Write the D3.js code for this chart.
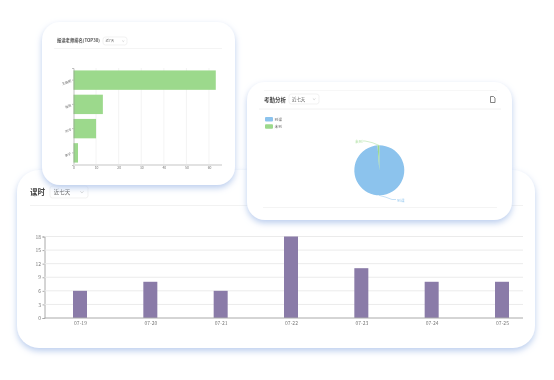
<!DOCTYPE html>
<html>
<head>
<meta charset="utf-8">
<script src="https://cdn.jsdelivr.net/npm/d3@7"></script>
<style>
  html, body { margin: 0; padding: 0; background: #fff; }
  svg { display: block; filter: blur(0.35px); }
  text { font-family: "Noto Sans CJK SC", "DejaVu Sans", sans-serif; }
</style>
</head>
<body>
<svg id="chart" width="554" height="380"></svg>
<script>
// bottom chart: class hours per day
const dates = ['07-19', '07-20', '07-21', '07-22', '07-23', '07-24', '07-25'];
const hours = [6, 8, 6, 18, 11, 8, 8];
const hourTicks = [0, 3, 6, 9, 12, 15, 18];

// top left chart: teacher ranking
const teachers = ['王晓明', '张丽', '刘洋', '李子'];
const teacherValues = [63, 13, 10, 2];
const teacherTicks = [0, 10, 20, 30, 40, 50, 60];

// right chart: attendance
const attendNames = ['到课', '未到'];
const attendValues = [88, 1];
const attendColors = ['#8cc3ed', '#9cd98c'];
const attendLabelColors = ['#9fcdf0', '#b4e2a8'];

const svg = d3.select('#chart');

const defs = svg.append('defs');
const shadow = defs.append('filter').attr('id', 'shadow')
  .attr('x', '-10%').attr('y', '-10%').attr('width', '120%').attr('height', '125%');
shadow.append('feDropShadow')
  .attr('dx', 0).attr('dy', 3).attr('stdDeviation', 3)
  .attr('flood-color', '#b4c9ec').attr('flood-opacity', 0.9);

function card(x, y, w, h, r) {
  svg.append('rect')
    .attr('x', x).attr('y', y).attr('width', w).attr('height', h)
    .attr('rx', r).attr('fill', '#fff').attr('filter', 'url(#shadow)');
}

function hline(x1, x2, y, color, width) {
  svg.append('line')
    .attr('x1', x1).attr('x2', x2).attr('y1', y).attr('y2', y)
    .attr('stroke', color).attr('stroke-width', width || 1);
}

// little dropdown with a chevron
function select(x, y, w, h, label, size) {
  svg.append('rect')
    .attr('x', x).attr('y', y).attr('width', w).attr('height', h)
    .attr('rx', 2.5).attr('fill', '#fff').attr('stroke', '#ececec').attr('stroke-width', 0.7);
  svg.append('text')
    .attr('x', x + size * 0.7).attr('y', y + h / 2 + size * 0.36)
    .attr('font-size', size).attr('fill', '#666').text(label);
  const cx = x + w - size * 1.1, cy = y + h / 2;
  svg.append('path')
    .attr('d', `M${cx - size * 0.3},${cy - size * 0.12}L${cx},${cy + size * 0.16}L${cx + size * 0.3},${cy - size * 0.12}`)
    .attr('fill', 'none').attr('stroke', '#bbb').attr('stroke-width', 0.6);
}

function drawBottom() {
  card(17, 170, 518, 178, 22);

  svg.append('text').attr('x', 30).attr('y', 195)
    .attr('font-size', 7.5).attr('font-weight', 700).attr('fill', '#444').text('课时');
  select(50, 186, 38, 12, '近七天', 5.5);
  hline(30, 523, 205.5, '#f2f2f2');

  const x = d3.scalePoint().domain(dates).range([80, 502]);
  const y = d3.scaleLinear().domain([0, 18]).range([318, 236.5]);

  const yAxis = svg.append('g').attr('transform', 'translate(44.5,0)')
    .call(d3.axisLeft(y).tickValues(hourTicks).tickSize(2).tickPadding(1.5));
  yAxis.select('.domain').attr('stroke', '#aaa');
  yAxis.selectAll('line').attr('stroke', '#aaa');
  yAxis.selectAll('text').attr('font-size', 5).attr('fill', '#777');

  svg.selectAll('.hgrid').data(hourTicks.filter(d => d > 0)).join('line')
    .attr('class', 'hgrid')
    .attr('x1', 44.5).attr('x2', 523)
    .attr('y1', d => y(d)).attr('y2', d => y(d))
    .attr('stroke', '#ebebeb');

  svg.selectAll('.hbar').data(hours).join('rect')
    .attr('class', 'hbar')
    .attr('x', (d, i) => x(dates[i]) - 7)
    .attr('y', d => y(d))
    .attr('width', 14)
    .attr('height', d => y(0) - y(d))
    .attr('fill', '#8a7ba8');

  const xAxis = svg.append('g').attr('transform', 'translate(0,318)')
    .call(d3.axisBottom(x).tickSize(0).tickPadding(3));
  xAxis.select('.domain').remove();
  xAxis.selectAll('text').attr('font-size', 5).attr('fill', '#777');
  hline(44.5, 523, 318, '#aaa');
}

function drawRanking() {
  card(42, 22, 193, 163, 18);

  svg.append('text').attr('x', 57).attr('y', 42)
    .attr('font-size', 4.3).attr('font-weight', 700).attr('fill', '#555').text('报读老师排名(TOP30)');
  select(103, 37, 24, 8, '近7天', 3.4);
  hline(54, 222, 48.5, '#f4f4f4');

  const x = d3.scaleLinear().domain([0, 60]).range([73.5, 209]);
  const y = d3.scaleBand().domain(teachers).range([68, 165]).paddingInner(0.2).paddingOuter(0.1);

  svg.selectAll('.tgrid').data(teacherTicks.filter(d => d > 0)).join('line')
    .attr('class', 'tgrid')
    .attr('x1', d => x(d)).attr('x2', d => x(d))
    .attr('y1', 68).attr('y2', 165)
    .attr('stroke', '#efefef').attr('stroke-width', 0.7);

  svg.selectAll('.tbar').data(teacherValues).join('rect')
    .attr('class', 'tbar')
    .attr('x', x(0))
    .attr('y', (d, i) => y(teachers[i]))
    .attr('width', d => x(d) - x(0))
    .attr('height', y.bandwidth())
    .attr('fill', '#9cd98c');

  const yAxis = svg.append('g').attr('transform', 'translate(73.5,0)')
    .call(d3.axisLeft(y).tickSize(1.5).tickPadding(1));
  yAxis.select('.domain').attr('stroke', '#999').attr('stroke-width', 0.6);
  yAxis.selectAll('line').attr('stroke', '#999').attr('stroke-width', 0.6);
  yAxis.selectAll('text').attr('font-size', 3.2).attr('fill', '#666')
    .attr('transform', 'rotate(-20)');

  hline(73.5, 222, 165, '#e2e2e2', 2);
  const xAxis = svg.append('g').attr('transform', 'translate(0,165)')
    .call(d3.axisBottom(x).tickValues(teacherTicks).tickSize(0).tickPadding(2));
  xAxis.select('.domain').remove();
  xAxis.selectAll('text').attr('font-size', 3.4).attr('fill', '#777');
}

function drawAttendance() {
  card(247, 82, 265, 138, 18);

  hline(264, 497, 90.5, '#f7f7f7');
  svg.append('text').attr('x', 264).attr('y', 101.5)
    .attr('font-size', 5.5).attr('font-weight', 700).attr('fill', '#444').text('考勤分析');
  select(289, 94, 30, 10, '近七天', 4.4);
  hline(259, 501, 109, '#f2f2f2');

  // export icon
  svg.append('path')
    .attr('d', 'M490.5,96.5h3l1.5,1.5v4.5h-4.5z')
    .attr('fill', 'none').attr('stroke', '#666').attr('stroke-width', 0.8);

  const legend = svg.append('g').selectAll('g').data(attendNames).join('g')
    .attr('transform', (d, i) => `translate(265,${117 + i * 7.3})`);
  legend.append('rect')
    .attr('width', 8).attr('height', 4.5).attr('rx', 1)
    .attr('fill', (d, i) => attendColors[i]);
  legend.append('text')
    .attr('x', 9.5).attr('y', 4)
    .attr('font-size', 3.8).attr('fill', '#777').text(d => d);

  const cx = 379.3, cy = 170.3, r = 25;
  const pie = d3.pie().sort(null);
  const arc = d3.arc().innerRadius(0).outerRadius(r);
  svg.append('g').attr('transform', `translate(${cx},${cy})`)
    .selectAll('path').data(pie(attendValues)).join('path')
    .attr('d', arc)
    .attr('fill', (d, i) => attendColors[i]);

  // leader lines from each slice to its label
  const leaders = [
    { d: 'M379,195.3Q386,197 392,199.5H396', tx: 397, ty: 201.5 },
    { d: 'M379,145.3Q372,142 365,141H363', tx: 355, ty: 142.5 }
  ];
  leaders.forEach((l, i) => {
    svg.append('path').attr('d', l.d)
      .attr('fill', 'none').attr('stroke', attendLabelColors[i]).attr('stroke-width', 0.6);
    svg.append('text').attr('x', l.tx).attr('y', l.ty)
      .attr('font-size', 3.8).attr('fill', attendLabelColors[i]).text(attendNames[i]);
  });

  hline(263, 497, 207.5, '#f4f4f4');
}

drawBottom();
drawRanking();
drawAttendance();
</script>
</body>
</html>
